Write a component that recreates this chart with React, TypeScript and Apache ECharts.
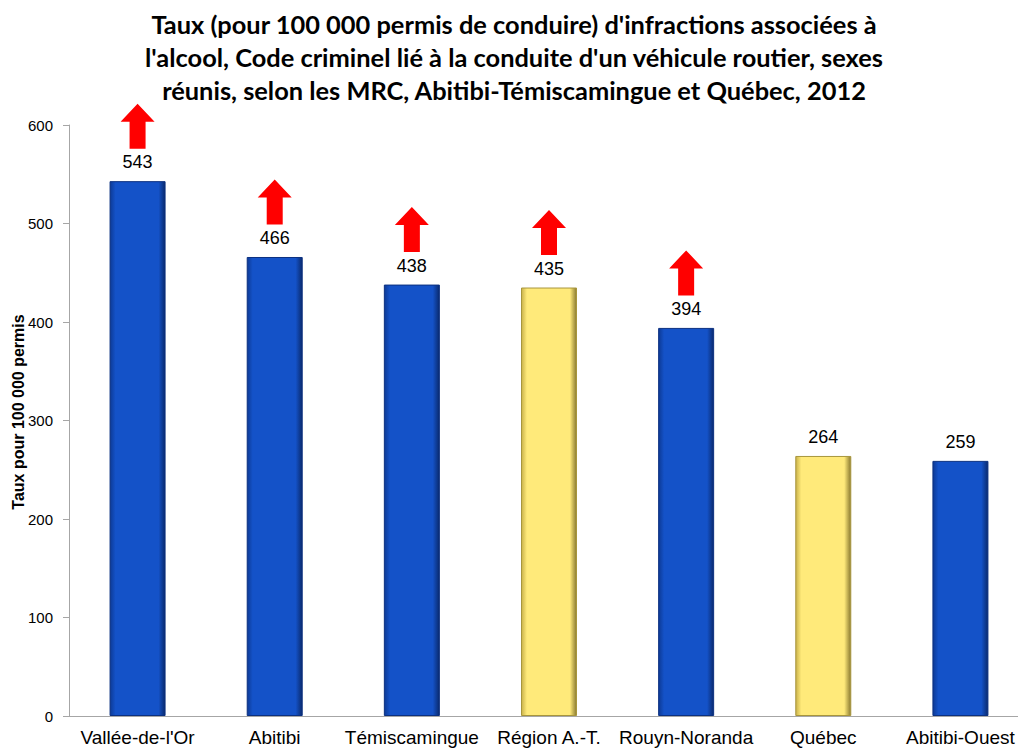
import React, { useEffect, useRef } from "react";
import * as echarts from "echarts";

const categories = ["Vallée-de-l'Or", "Abitibi", "Témiscamingue", "Région A.-T.", "Rouyn-Noranda", "Québec", "Abitibi-Ouest"];
const values = [543, 466, 438, 435, 394, 264, 259];
const isReference = [false, false, false, true, false, true, false];
const hasUpArrow = [true, true, true, true, true, false, false];
const titleLines = [
  "Taux (pour 100 000 permis de conduire) d'infractions associées à",
  "l'alcool, Code criminel lié à la conduite d'un véhicule routier, sexes",
  "réunis, selon les MRC, Abitibi-Témiscamingue et Québec, 2012",
];
const yAxisName = "Taux pour 100 000 permis";

const blueGrad = () =>
  new echarts.graphic.LinearGradient(0, 0, 1, 0, [
    { offset: 0, color: "#0d3a96" },
    { offset: 0.1, color: "#1452c8" },
    { offset: 0.88, color: "#1452c8" },
    { offset: 1, color: "#0a2a6e" },
  ]);
const yellowGrad = () =>
  new echarts.graphic.LinearGradient(0, 0, 1, 0, [
    { offset: 0, color: "#c9b24a" },
    { offset: 0.1, color: "#ffea7a" },
    { offset: 0.88, color: "#ffea7a" },
    { offset: 1, color: "#8a7a30" },
  ]);

export default function App() {
  const ref = useRef<HTMLDivElement>(null);
  useEffect(() => {
    document.body.style.margin = "0";
    const chart = echarts.init(ref.current!, null, { renderer: "svg" });
    chart.setOption({
      animation: false,
      backgroundColor: "#ffffff",
      title: {
        text: titleLines.join("\n"),
        left: 509,
        textAlign: "center",
        top: 2,
        textStyle: {
          fontFamily: "Lato",
          fontWeight: "bold",
          fontSize: 25.4,
          lineHeight: 33,
          color: "#000",
        },
      },
      graphic: [
        {
          type: "text",
          x: 18,
          y: 412,
          rotation: Math.PI / 2,
          style: {
            text: yAxisName,
            fontFamily: "Liberation Sans",
            fontWeight: "bold",
            fontSize: 16,
            fill: "#000",
            align: "center",
            verticalAlign: "middle",
          },
        },
      ],
      grid: { left: 69, top: 125, height: 591, width: 960, outerBoundsMode: "none", containLabel: false },
      xAxis: {
        type: "category",
        data: categories,
        axisLine: { lineStyle: { color: "#a6a6a6" } },
        axisTick: { show: false },
        axisLabel: { fontFamily: "Liberation Sans", fontSize: 19, color: "#000", margin: 12, interval: 0 },
      },
      yAxis: {
        type: "value",
        min: 0,
        max: 600,
        interval: 100,
        axisLine: { show: true, lineStyle: { color: "#a6a6a6" } },
        axisTick: { show: true, length: 6, lineStyle: { color: "#a6a6a6" } },
        splitLine: { show: false },
        axisLabel: { fontFamily: "Liberation Sans", fontSize: 15, color: "#000", margin: 16 },
      },
      series: [
        {
          type: "bar",
          barWidth: 56,
          data: values.map((v, i) => ({
            value: v,
            itemStyle: {
              color: isReference[i] ? yellowGrad() : blueGrad(),
              borderColor: isReference[i] ? "#a8963c" : "#0b3080",
              borderWidth: 1,
            },
          })),
          label: {
            show: true,
            position: "top",
            distance: 10,
            fontFamily: "Liberation Sans",
            fontSize: 18,
            color: "#000",
          },
        },
        {
          type: "scatter",
          silent: true,
          symbol: "path://M17,0L34,18L25,18L25,45L9,45L9,18L0,18Z",
          symbolSize: [34, 45],
          symbolOffset: [0, -55],
          itemStyle: { color: "#ff0000", opacity: 1 },
          data: values.map((v, i) => (hasUpArrow[i] ? v : "-")),
          z: 5,
        },
      ],
    });
    return () => chart.dispose();
  }, []);
  return <div ref={ref} style={{ width: 1018, height: 748 }} />;
}
